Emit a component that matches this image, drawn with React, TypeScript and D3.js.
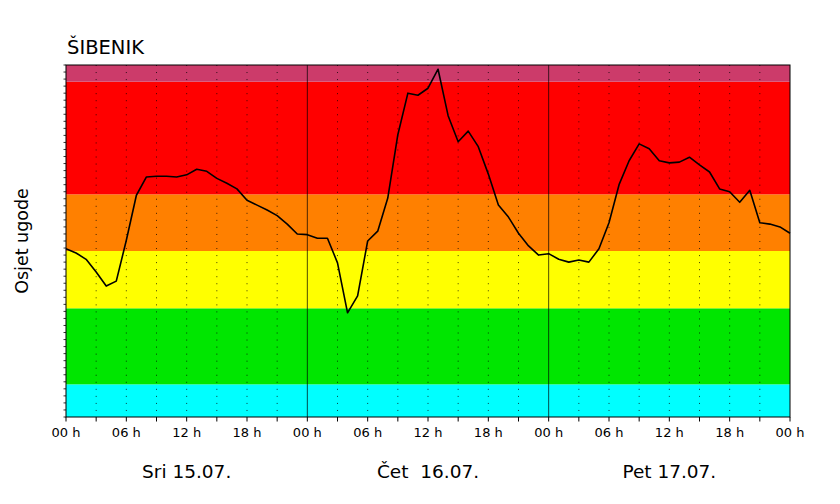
import React from "react";
import * as d3 from "d3";

const title = "ŠIBENIK";
const yLabel = "Osjet ugode";
const dayLabels = ["Sri 15.07.", "Čet  16.07.", "Pet 17.07."];
const hourTickLabels = ["00 h", "06 h", "12 h", "18 h"];

// hourly values, h = 0 .. 72
const comfortDay1 = [
  23.9, 23.3, 22.4, 20.6, 18.6, 19.3, 25.1, 31.5, 34.1, 34.2, 34.2, 34.1,
  34.4, 35.2, 34.9, 33.9, 33.2, 32.4, 30.8, 30.1, 29.4, 28.6, 27.4, 26.0,
];
const comfortDay2 = [
  25.9, 25.4, 25.4, 21.9, 14.8, 17.2, 25.0, 26.4, 31.1, 40.1, 46.0, 45.7,
  46.7, 49.4, 42.8, 39.1, 40.6, 38.4, 34.5, 30.1, 28.4, 26.1, 24.3, 23.0,
];
const comfortDay3 = [
  23.2, 22.4, 22.0, 22.3, 22.0, 23.9, 27.6, 33.0, 36.4, 38.8, 38.1, 36.4,
  36.1, 36.2, 36.9, 35.8, 34.8, 32.4, 32.0, 30.5, 32.2, 27.6, 27.4, 27.0,
  26.1,
];

// comfort bands (lower, upper, colour)
const bandLimits = [0, 4.64, 15.44, 23.58, 31.63, 47.63, 50];
const bandColors = ["#00FFFF", "#00E600", "#FFFF00", "#FF8000", "#FF0000", "#CC3B6A"];

const W = 840;
const H = 504;
const M = { left: 66, right: 790, top: 65, bottom: 417 };
const FONT = "DejaVu Sans, sans-serif";

export default function App() {
  const values = [...comfortDay1, ...comfortDay2, ...comfortDay3];
  const x = d3.scaleLinear().domain([0, 72]).range([M.left, M.right]);
  const y = d3.scaleLinear().domain([0, 50]).range([M.bottom, M.top]);
  const line = d3
    .line<number>()
    .x((_, i) => x(i))
    .y((d) => y(d));

  const ticks3h = d3.range(0, 73, 3);
  const yTicks = d3.range(0, 51, 1);

  return (
    <svg
      width={W}
      height={H}
      style={{ position: "absolute", left: 0, top: 0, background: "#fff" }}
      fontFamily={FONT}
    >
      {bandColors.map((c, i) => (
        <rect
          key={i}
          x={M.left}
          width={M.right - M.left}
          y={y(bandLimits[i + 1])}
          height={y(bandLimits[i]) - y(bandLimits[i + 1])}
          fill={c}
        />
      ))}
      {ticks3h
        .filter((h) => h % 24 !== 0)
        .map((h) => (
          <line
            key={"g" + h}
            x1={x(h)}
            x2={x(h)}
            y1={M.top}
            y2={M.bottom}
            stroke="#000"
            strokeWidth={1}
            strokeDasharray="1,6.04"
            opacity={0.75}
          />
        ))}
      {[24, 48].map((h) => (
        <line
          key={"d" + h}
          x1={x(h)}
          x2={x(h)}
          y1={M.top}
          y2={M.bottom}
          stroke="#000"
          strokeWidth={1}
          opacity={0.7}
        />
      ))}
      <path d={line(values) || ""} fill="none" stroke="#000" strokeWidth={1.6} strokeLinejoin="round" />
      <rect
        x={M.left}
        y={M.top}
        width={M.right - M.left}
        height={M.bottom - M.top}
        fill="none"
        stroke="#000"
        strokeWidth={1}
      />
      {yTicks.map((t) => (
        <line key={"y" + t} x1={M.left - 2.5} x2={M.left} y1={y(t)} y2={y(t)} stroke="#000" strokeWidth={0.8} />
      ))}
      {ticks3h.map((h) => (
        <line key={"t" + h} x1={x(h)} x2={x(h)} y1={M.bottom} y2={M.bottom + 4.5} stroke="#000" strokeWidth={1} />
      ))}
      {ticks3h
        .filter((h) => h % 6 === 0)
        .map((h) => (
          <text key={"l" + h} x={x(h)} y={437} textAnchor="middle" fontSize={13} fill="#000">
            {hourTickLabels[(h % 24) / 6]}
          </text>
        ))}
      {dayLabels.map((lab, i) => (
        <text
          key={"day" + i}
          x={x(i * 24 + 12)}
          y={478}
          textAnchor="middle"
          fontSize={18.5}
          fill="#000"
          style={{ whiteSpace: "pre" }}
        >
          {lab}
        </text>
      ))}
      <text x={67} y={54} fontSize={19.5} fill="#000">
        {title}
      </text>
      <text
        transform={`translate(28,${(M.top + M.bottom) / 2}) rotate(-90)`}
        textAnchor="middle"
        fontSize={17.5}
        fill="#000"
      >
        {yLabel}
      </text>
    </svg>
  );
}
